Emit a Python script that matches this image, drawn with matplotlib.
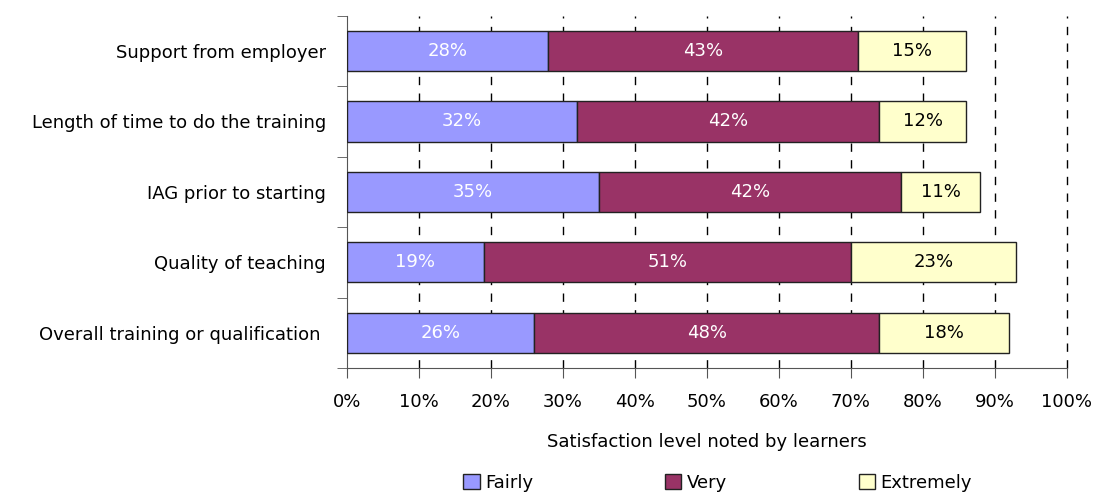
import matplotlib.pyplot as plt
import numpy as np

plt.rcParams.update({
    "font.family": "DejaVu Sans",
    "font.size": 13,
})

categories = ["Support from employer",
              "Length of time to do the training",
              "IAG prior to starting",
              "Quality of teaching",
              "Overall training or qualification "]
fairly = [28, 32, 35, 19, 26]
very = [43, 42, 42, 51, 48]
extremely = [15, 12, 11, 23, 18]

series = [("Fairly", fairly, "#9999FF", "white"),
          ("Very", very, "#993366", "white"),
          ("Extremely", extremely, "#FFFFCC", "black")]

fig = plt.figure(figsize=(10.94, 4.94), dpi=100)
ax = fig.add_axes([0.317, 0.255, 0.658, 0.713])

y = np.arange(len(categories))
left = np.zeros(len(categories))
for name, vals, color, tcolor in series:
    vals = np.array(vals, dtype=float)
    ax.barh(y, vals, left=left, height=0.57, color=color,
            edgecolor="#222222", linewidth=1, label=name, zorder=3)
    for yy, l, v in zip(y, left, vals):
        ax.text(l + v / 2, yy, f"{int(v)}%", ha="center", va="center",
                color=tcolor, fontsize=13, zorder=4)
    left += vals

ax.set_xlim(0, 100)
ax.set_ylim(len(categories) - 0.5, -0.5)
ax.set_xticks(np.arange(0, 101, 10))
ax.set_xticklabels([f"{v}%" for v in range(0, 101, 10)])
ax.set_yticks(y)
ax.set_yticklabels(categories)
ax.set_yticks(np.arange(-0.5, len(categories)), minor=True)
ax.tick_params(axis="y", which="major", length=0, pad=15)
ax.tick_params(axis="y", which="minor", length=7, color="#555555")
ax.tick_params(axis="x", length=7, color="#555555", pad=11)

for v in range(10, 101, 10):
    ax.axvline(v, color="black", linestyle=(0, (6, 6)), linewidth=1,
               zorder=1, clip_on=False)

for s in ["top", "right"]:
    ax.spines[s].set_visible(False)
ax.spines["left"].set_color("#555555")
ax.spines["bottom"].set_color("#555555")

ax.set_xlabel("Satisfaction level noted by learners", labelpad=16)

fig.legend(loc="lower center", bbox_to_anchor=(0.656, -0.028), ncol=3,
           frameon=False, handlelength=0.9, handleheight=0.9,
           handletextpad=0.3, columnspacing=7.3)

fig.savefig("out.png", dpi=100)
